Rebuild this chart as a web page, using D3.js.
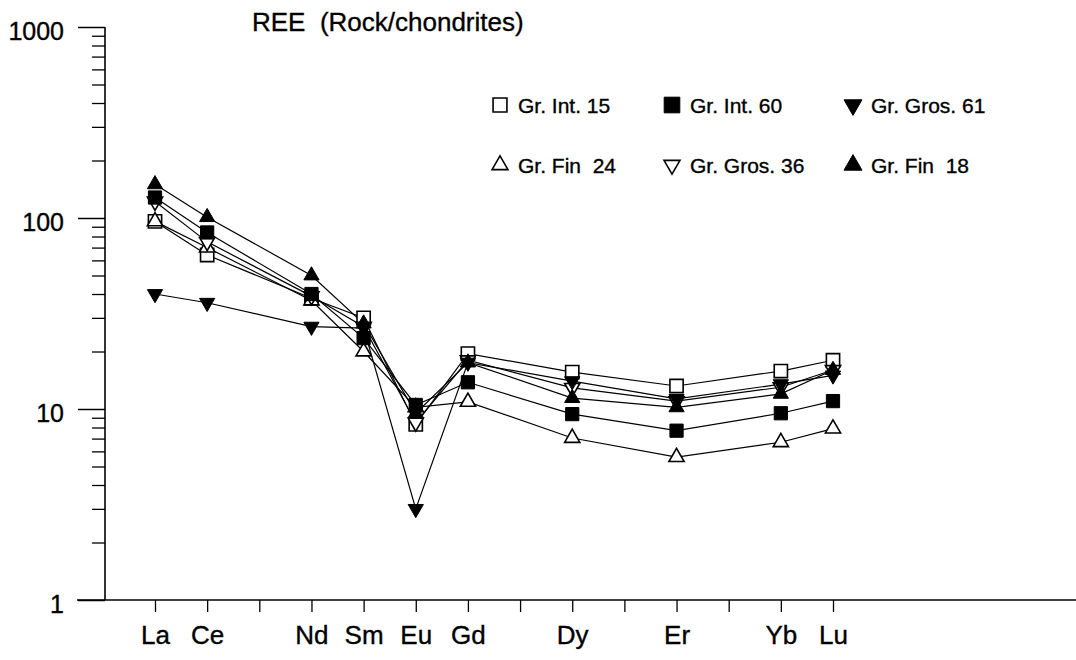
<!DOCTYPE html>
<html>
<head>
<meta charset="utf-8">
<script src="https://cdn.jsdelivr.net/npm/d3@7"></script>
<style>
  body { margin: 0; background: #fff; }
  svg text { font-family: "Liberation Sans", Arial, sans-serif; fill: #000; stroke: #000; stroke-width: 0.35px; }
</style>
</head>
<body>
<svg id="chart"></svg>
<script>
//all positions on the REE axis (ticks for each one)
let elements = ["La", "Ce", "Pr", "Nd", "Sm", "Eu", "Gd", "Tb", "Dy", "Ho", "Er", "Tm", "Yb", "Lu"];
//elements that get a label and a measured value
let measured = ["La", "Ce", "Nd", "Sm", "Eu", "Gd", "Dy", "Er", "Yb", "Lu"];
let majorTicks = [1, 10, 100, 1000];

//rock / chondrite values, same order as measured
let grInt15  = [96, 64, 38, 30, 8.3, 19.5, 15.6, 13.2, 15.8, 18];
let grInt60  = [128, 84, 40, 23.5, 10.5, 13.8, 9.4, 7.7, 9.5, 11];
let grGros61 = [40, 36, 27, 26.5, 3.0, 17.5, 14, 11.3, 13.5, 15];
let grFin24  = [96, 70, 37, 20, 10.2, 10.9, 7.05, 5.6, 6.7, 7.9];
let grGros36 = [122, 75, 39, 27, 8.5, 18, 12.9, 11, 13, 16];
let grFin18  = [150, 101, 50, 28, 9.5, 17.5, 11.4, 10.2, 12, 16];

let seriesNames = ["Gr. Int. 15", "Gr. Int. 60", "Gr. Gros. 61", "Gr. Fin  24", "Gr. Gros. 36", "Gr. Fin  18"];
let seriesValues = [grInt15, grInt60, grGros61, grFin24, grGros36, grFin18];

//marker style for each series: shape, filled, pointing down
let markers = [
  {shape: "square", filled: false, down: false},
  {shape: "square", filled: true, down: false},
  {shape: "triangle", filled: true, down: true},
  {shape: "triangle", filled: false, down: false},
  {shape: "triangle", filled: false, down: true},
  {shape: "triangle", filled: true, down: false}
];

var svgWidth = 1076, svgHeight = 660;
var svg = d3.select('#chart')
  .attr("width", svgWidth)
  .attr("height", svgHeight);

//scales
var x = d3.scalePoint()
  .domain(elements)
  .range([155, 833]);
var y = d3.scaleLog()
  .domain([1, 1000])
  .range([600, 27]);
var axisX = 105;

//title
svg.append("text")
  .attr("x", 252)
  .attr("y", 31)
  .attr("font-size", 26)
  .attr("xml:space", "preserve")
  .text("REE  (Rock/chondrites)");

//y axis: minor ticks first
var minorTicks = [];
for (var d = 1; d < 1000; d *= 10) {
  for (var k = 2; k <= 9; k++) minorTicks.push(d * k);
}
svg.append("g")
  .attr("transform", "translate(" + axisX + ",0)")
  .call(d3.axisLeft(y).tickValues(minorTicks).tickSize(13).tickFormat(""))
  .call(g => g.select(".domain").remove())
  .selectAll("line").attr("stroke", "#000").attr("stroke-width", 1.3);

var yAxis = svg.append("g")
  .attr("transform", "translate(" + axisX + ",0)")
  .call(d3.axisLeft(y).tickValues(majorTicks).tickSize(27).tickPadding(14).tickFormat(d3.format("d")));
yAxis.select(".domain").remove();
yAxis.selectAll("line").attr("stroke", "#000").attr("stroke-width", 1.5);
yAxis.selectAll("text")
  .attr("font-size", 25)
  .attr("dy", "0.5em")
  .style("font-family", "'Liberation Sans', Arial, sans-serif");

//vertical axis line
svg.append("line")
  .attr("x1", axisX).attr("x2", axisX)
  .attr("y1", y(1000)).attr("y2", y(1))
  .attr("stroke", "#000").attr("stroke-width", 1.6);

//x axis with ticks on every element, labels only on measured ones
var xAxis = svg.append("g")
  .attr("transform", "translate(0," + y(1) + ")")
  .call(d3.axisBottom(x).tickSize(12).tickPadding(14)
    .tickFormat(function(d) { return measured.indexOf(d) >= 0 ? d : ""; }));
xAxis.select(".domain").remove();
xAxis.selectAll("line").attr("stroke", "#000").attr("stroke-width", 1.3);
xAxis.selectAll("text")
  .attr("font-size", 26)
  .style("font-family", "'Liberation Sans', Arial, sans-serif");

svg.append("line")
  .attr("x1", 77).attr("x2", svgWidth)
  .attr("y1", y(1)).attr("y2", y(1))
  .attr("stroke", "#000").attr("stroke-width", 1.6);

//lines
var line = d3.line()
  .x(function(d) { return x(d[0]); })
  .y(function(d) { return y(d[1]); });

seriesValues.forEach(function(vals) {
  svg.append("path")
    .datum(measured.map(function(el, i) { return [el, vals[i]]; }))
    .attr("fill", "none")
    .attr("stroke", "#000")
    .attr("stroke-width", 1.2)
    .attr("d", line);
});

function symbolPath(m, scale) {
  if (m.shape === "square") return d3.symbol().type(d3.symbolSquare).size(175 * scale)();
  return d3.symbol().type(d3.symbolTriangle).size(100 * scale)();
}

function drawMarker(parent, m, cx, cy, scale) {
  parent.append("path")
    .attr("d", symbolPath(m, scale || 1))
    .attr("transform", "translate(" + cx + "," + cy + ")" + (m.down ? " rotate(180)" : ""))
    .attr("fill", m.filled ? "#000" : "#fff")
    .attr("stroke", "#000")
    .attr("stroke-width", m.filled ? 1 : 1.6);
}

//markers: open ones first so filled ones sit on top
var order = [0, 3, 4, 1, 2, 5];
order.forEach(function(s) {
  seriesValues[s].forEach(function(v, i) {
    drawMarker(svg, markers[s], x(measured[i]), y(v));
  });
});

//legend, 3 columns x 2 rows
var legendCols = [500, 672, 853];
var legendRows = [105, 165];
seriesNames.forEach(function(name, i) {
  var col = i % 3, row = Math.floor(i / 3);
  var mx = legendCols[col], my = legendRows[row];
  drawMarker(svg, markers[i], mx, my, markers[i].filled ? 1.4 : 1.1);
  svg.append("text")
    .attr("x", mx + 18)
    .attr("y", my + 8)
    .attr("font-size", 21)
    .attr("xml:space", "preserve")
    .text(name);
});
</script>
</body>
</html>
